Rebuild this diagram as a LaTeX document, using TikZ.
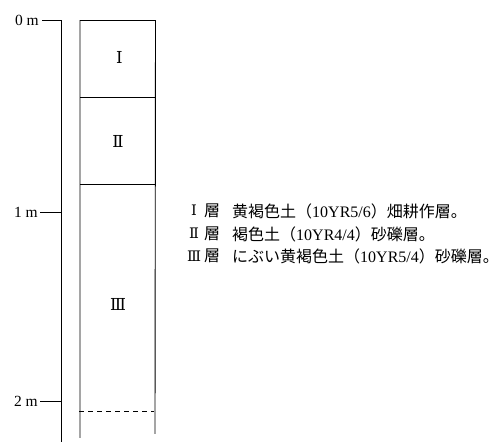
\documentclass[tikz,border=0pt]{standalone}
\usepackage{fontspec}
\setmainfont{Liberation Serif}
\newfontfamily\jp{Noto Sans CJK JP}
\newfontfamily\rn{DejaVu Serif}
\begin{document}
\begin{tikzpicture}[x=1pt,y=-1pt,
  ln/.style={line width=0.9pt,black},
  scl/.style={font=\fontsize{15.5}{17}\selectfont,anchor=east,inner sep=0pt},
  num/.style={font=\rn\fontsize{16.5}{18}\selectfont,inner sep=0pt},
  lnum/.style={font=\rn\fontsize{14.5}{16}\selectfont,inner sep=0pt},
  lab/.style={font=\fontsize{16}{18}\selectfont,anchor=west,inner sep=0pt}]
\useasboundingbox (0,0) rectangle (499,443);
% scale
\draw[ln] (42,20) -- (61,20) -- (61,442);
\draw[ln] (40,212) -- (61,212);
\draw[ln] (40,401) -- (61,401);
\node[scl] (s0) at (39,20) {0 m};
\node[scl] (s1) at (38,212) {1 m};
\node[scl] (s2) at (38,401) {2 m};
% column
\draw[ln] (80,438) -- (80,20.5) -- (155.5,20.5) -- (155,434);
\draw[ln] (80,97) -- (155.5,97);
\draw[ln] (80,184) -- (155,184);
\draw[ln,dashed,dash pattern=on 5pt off 4pt] (79,411.5) -- (154,411.5);
\node[num] (n1) at (119.5,57) {Ⅰ};
\node[num] (n2) at (118,141) {Ⅱ};
\node[num] (n3) at (118,304) {Ⅲ};
% legend
\node[lnum] (r1) at (194,210) {Ⅰ};
\node[lnum] (r2) at (194,233) {Ⅱ};
\node[lnum] (r3) at (194,256) {Ⅲ};
\node[lab] (l1) at (204,211) {{\jp 層}};
\node[lab] (l2) at (204,234) {{\jp 層}};
\node[lab] (l3) at (204,256) {{\jp 層}};
\node[lab] (d1) at (232,211) {{\jp 黄褐色土（}10YR5/6{\jp ）畑耕作層。}};
\node[lab] (d2) at (232,234) {{\jp 褐色土（}10YR4/4{\jp ）砂礫層。}};
\node[lab] (d3) at (232,256) {{\jp にぶい黄褐色土（}10YR5/4{\jp ）砂礫層。}};
\end{tikzpicture}
\end{document}
